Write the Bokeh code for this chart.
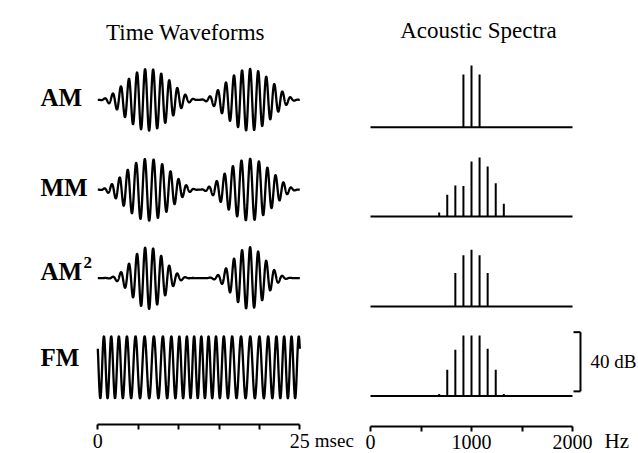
import numpy as np
from bokeh.plotting import figure
from bokeh.layouts import row
from bokeh.models import FixedTicker, Range1d
from bokeh.embed import file_html
from bokeh.resources import INLINE
from bokeh.core.properties import value

# ---------------- data ----------------
row_labels = ["AM", "MM", "AM", "FM"]
carrier_hz = 1000.0      # carrier of every waveform
mod_hz = 80.0            # modulation rate
duration_ms = 25.0
mm_fm_index = 1.0        # FM part of mixed modulation
fm_index = 1.6           # FM modulation index
carrier_phase = 2.5

time_ticks = [0, 5, 10, 15, 20, 25]
freq_ticks = [0, 500, 1000, 1500, 2000]

spec_center_hz = 1000
spec_step_hz = 80
am_k = [-1, 0, 1]
am_db = [35.6, 41.7, 35.6]
mm_k = [-4, -3, -2, -1, 0, 1, 2, 3, 4]
mm_db = [2.7, 14.7, 20.9, 20.5, 37.2, 39.9, 33.8, 22.5, 8.6]
am2_k = [-2, -1, 0, 1, 2]
am2_db = [22.5, 34.5, 38.3, 34.5, 22.5]
fm_k = [-4, -3, -2, -1, 0, 1, 2, 3, 4]
fm_db = [1.4, 17.8, 31.3, 41.0, 41.0, 41.0, 32.0, 17.8, 1.4]
scale_db = 40

FONT = value("Liberation Serif")

# ---------------- waveforms ----------------
t_ms = np.linspace(0, duration_ms, 2501)
ts = t_ms / 1000.0
env = (1 - np.cos(2 * np.pi * mod_hz * ts)) / 2
ph = 2 * np.pi * carrier_hz * ts + carrier_phase
w_am = env * np.sin(ph)
w_mm = env * np.sin(ph + mm_fm_index * np.sin(2 * np.pi * mod_hz * ts))
w_am2 = env ** 2 * np.sin(ph)
w_fm = np.sin(ph + fm_index * np.sin(2 * np.pi * mod_hz * ts))
waves = [w_am, w_mm, w_am2, w_fm]
wave_offsets = [0, -2.9, -5.75, -8.63]

LEFT_W = 362
W_TOP = 3.203
W_PX = 31.0
W_XPX = 8.08
W_X0 = -97.3 / W_XPX
p1 = figure(frame_width=LEFT_W, frame_height=453,
            x_range=Range1d(W_X0, W_X0 + LEFT_W / W_XPX),
            y_range=Range1d(W_TOP - 453 / W_PX, W_TOP),
            toolbar_location=None, output_backend="svg",
            min_border_left=0, min_border_right=0, min_border_top=0,
            min_border_bottom=0, y_axis_location=None,
            outline_line_color=None, background_fill_color="white",
            border_fill_color="white")
p1.grid.visible = False

for w, off in zip(waves, wave_offsets):
    p1.line(t_ms, w + off, line_color="black", line_width=2.3)

p1.text(x=[10.85], y=[W_TOP - 32 / W_PX], text=["Time Waveforms"], text_font=FONT,
        text_font_size="23px", text_align="center", text_baseline="alphabetic",
        text_color="black")

label_x = W_X0 + 40 / W_XPX
label_y = [W_TOP - px / W_PX for px in (97, 187, 271, 357)]
p1.text(x=[label_x] * 4, y=label_y, text=row_labels, text_font=FONT,
        text_font_size="25px", text_font_style="bold", text_align="left",
        text_baseline="middle", text_color="black")
p1.text(x=[label_x], y=[label_y[2]], text=["2"], text_font=FONT,
        text_font_size="17px", text_font_style="bold", text_align="left",
        text_baseline="middle", x_offset=43, y_offset=-9, text_color="black")

xa = p1.xaxis[0]
xa.fixed_location = W_TOP - 423.5 / W_PX
xa.bounds = (0, 25)
xa.ticker = FixedTicker(ticks=time_ticks)
xa.major_label_overrides = {5: "", 10: "", 15: "", 20: ""}
xa.minor_tick_line_color = None
xa.major_tick_in = 0
xa.major_tick_out = 5
xa.major_label_standoff = 5
xa.axis_line_width = 2
xa.major_tick_line_width = 2
xa.axis_line_color = "black"
xa.major_tick_line_color = "black"
xa.major_label_text_font = "Liberation Serif"
xa.major_label_text_font_size = "20px"
xa.major_label_text_color = "black"
p1.text(x=[25], y=[W_TOP - 440 / W_PX], text=["msec"], text_font=FONT,
        text_font_size="19px", text_align="left", text_baseline="middle",
        x_offset=15, text_color="black")

# ---------------- spectra ----------------
RIGHT_W = 638 - LEFT_W
S_TOP = 85.6
S_PX = 1.48
S_XPX = 0.101
S_X0 = -(370 - LEFT_W) / S_XPX
spec_offsets = [0, -60.3, -121.1, -181.7]
spectra = [(am_k, am_db), (mm_k, mm_db), (am2_k, am2_db), (fm_k, fm_db)]

p2 = figure(frame_width=RIGHT_W, frame_height=453,
            x_range=Range1d(S_X0, S_X0 + RIGHT_W / S_XPX),
            y_range=Range1d(S_TOP - 453 / S_PX, S_TOP),
            toolbar_location=None, output_backend="svg",
            min_border_left=0, min_border_right=0, min_border_top=0,
            min_border_bottom=0, y_axis_location=None,
            outline_line_color=None, background_fill_color="white",
            border_fill_color="white")
p2.grid.visible = False

for (ks, dbs), off in zip(spectra, spec_offsets):
    f = [spec_center_hz + spec_step_hz * k for k in ks]
    p2.segment(x0=f, y0=[off] * len(f), x1=f, y1=[off + d for d in dbs],
               line_color="black", line_width=2)
    p2.segment(x0=[0], y0=[off], x1=[2000], y1=[off], line_color="black",
               line_width=2)

p2.text(x=[1069], y=[S_TOP - 30 / S_PX], text=["Acoustic Spectra"], text_font=FONT,
        text_font_size="23px", text_align="center", text_baseline="alphabetic",
        text_color="black")

# 40 dB scale bracket
b0 = spec_offsets[3] + 3.2
b1 = b0 + scale_db
p2.segment(x0=[2079, 2010, 2010], y0=[b0, b0, b1], x1=[2079, 2079, 2079],
           y1=[b1, b0, b1], line_color="black", line_width=2)
p2.text(x=[2178], y=[(b0 + b1) / 2], text=["%d dB" % scale_db], text_font=FONT,
        text_font_size="19px", text_align="left", text_baseline="middle",
        text_color="black")

xb = p2.xaxis[0]
xb.fixed_location = S_TOP - 426 / S_PX
xb.bounds = (0, 2000)
xb.ticker = FixedTicker(ticks=freq_ticks)
xb.major_label_overrides = {500: "", 1500: ""}
xb.minor_tick_line_color = None
xb.major_tick_in = 0
xb.major_tick_out = 5
xb.major_label_standoff = 3
xb.axis_line_width = 2
xb.major_tick_line_width = 2
xb.axis_line_color = "black"
xb.major_tick_line_color = "black"
xb.major_label_text_font = "Liberation Serif"
xb.major_label_text_font_size = "20px"
xb.major_label_text_color = "black"
p2.text(x=[2000], y=[S_TOP - 440 / S_PX], text=["Hz"], text_font=FONT,
        text_font_size="21px", text_align="left", text_baseline="middle",
        x_offset=32, text_color="black")

layout = row(p1, p2)
open("out.html", "w").write(file_html(layout, INLINE))
